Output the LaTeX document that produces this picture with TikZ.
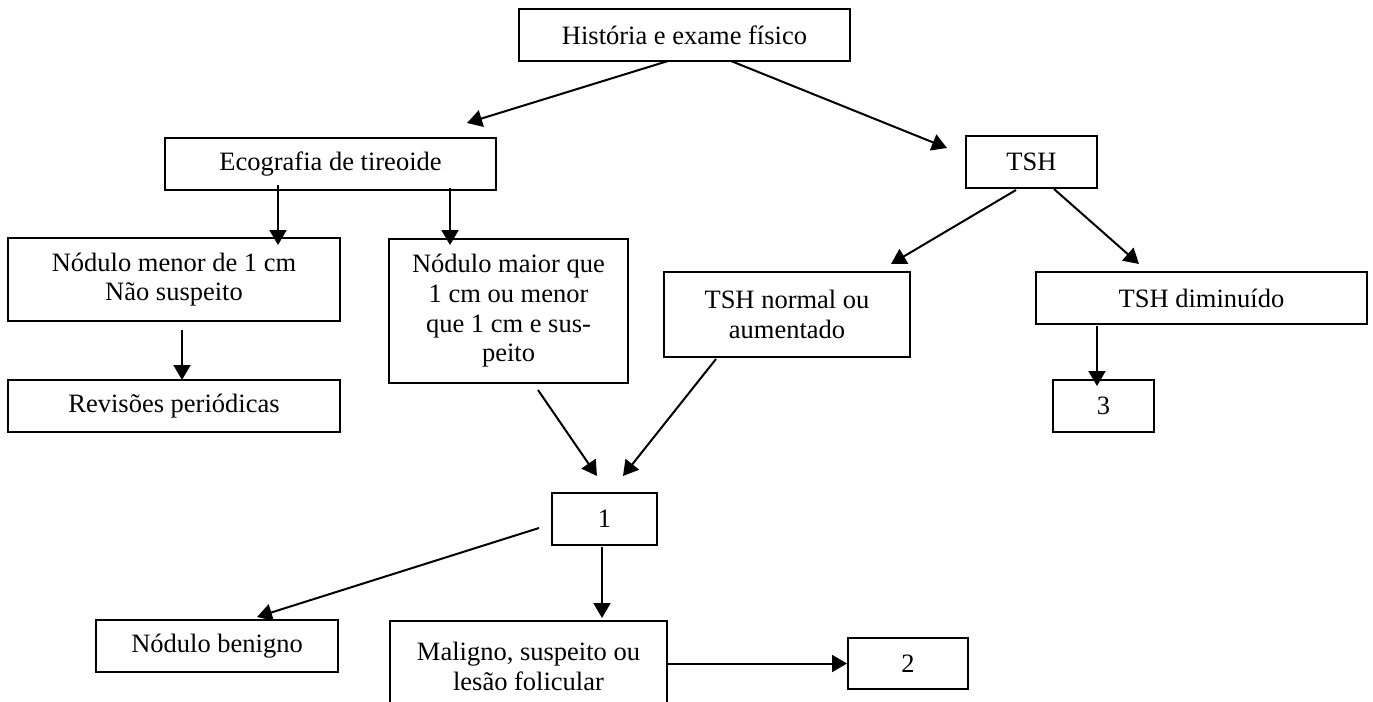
\documentclass[tikz,border=0pt]{standalone}
\usepackage{fontspec}
\setmainfont{Liberation Serif}
\usetikzlibrary{arrows.meta}

\tikzset{
    caixa/.style={draw, line width=1pt, inner sep=0pt, align=center,
        font=\fontsize{13.25}{14.8}\selectfont},
    seta/.style={line width=1pt, -{Triangle[length=7.5pt,width=8.5pt]}}
}

\begin{document}
\begin{tikzpicture}[x=0.5pt, y=-0.5pt]
        \clip (0,0) rectangle (1373,702);

        \node[caixa, minimum width=165.5pt, minimum height=26pt] (hist) at (684.5,35) {História e exame físico};
        \node[caixa, minimum width=165.5pt, minimum height=26pt] (eco) at (330.5,164) {Ecografia de tireoide};
        \node[caixa, minimum width=65.5pt, minimum height=26pt] (tsh) at (1031.5,162) {TSH};

        \node[caixa, minimum width=166pt, minimum height=41.5pt] (menor) at (174,279.5) {Nódulo menor de 1 cm\\Não suspeito};
        \node[caixa, minimum width=166pt, minimum height=26pt] (revis) at (174,406) {Revisões periódicas};
        \node[caixa, minimum width=119.5pt, minimum height=72pt] (maior) at (508.5,311) {Nódulo maior que\\1 cm ou menor\\que 1 cm e sus-\\peito};

        \node[caixa, minimum width=123pt, minimum height=42.5pt] (normal) at (787,314.5) {TSH normal ou\\aumentado};
        \node[caixa, minimum width=165.5pt, minimum height=26pt] (dimin) at (1201.5,298) {TSH diminuído};
        \node[caixa, minimum width=50.5pt, minimum height=26pt] (tres) at (1103.5,406) {3};

        \node[caixa, minimum width=52.5pt, minimum height=26pt] (um) at (604.5,519) {1};
        \node[caixa, minimum width=121pt, minimum height=26pt] (benig) at (217,646) {Nódulo benigno};
        \node[caixa, minimum width=138.5pt, minimum height=45.5pt] (malig) at (528.5,666.5) {Maligno, suspeito ou\\lesão folicular};
        \node[caixa, minimum width=60pt, minimum height=25.5pt] (dois) at (908,663.5) {2};

        \coordinate (hist-e) at (668,61);
        \coordinate (hist-d) at (731,61);
        \coordinate (eco-top) at (467,123);
        \coordinate (tsh-top) at (947,148);
        \coordinate (eco-e) at (278,185);
        \coordinate (eco-d) at (450,188);
        \coordinate (menor-top) at (278,245);
        \coordinate (maior-top) at (450,245);
        \coordinate (menor-bot) at (182,330);
        \coordinate (revis-top) at (182,380);
        \coordinate (tsh-e) at (1016,190);
        \coordinate (tsh-d) at (1054,189);
        \coordinate (normal-top) at (891,264);
        \coordinate (dimin-top) at (1139,264);
        \coordinate (dimin-bot) at (1097,326);
        \coordinate (tres-top) at (1097,386);
        \coordinate (maior-bot) at (538,390);
        \coordinate (normal-bot) at (716,359);
        \coordinate (um-e) at (597,476);
        \coordinate (um-d) at (623,476);
        \coordinate (um-lado) at (539,528);
        \coordinate (um-bot) at (602,547);
        \coordinate (benig-top) at (257,617);
        \coordinate (malig-top) at (602,618);

        \draw[seta] (hist-e) -- (eco-top);
        \draw[seta] (hist-d) -- (tsh-top);
        \draw[seta] (eco-e) -- (menor-top);
        \draw[seta] (eco-d) -- (maior-top);
        \draw[seta] (menor-bot) -- (revis-top);
        \draw[seta] (tsh-e) -- (normal-top);
        \draw[seta] (tsh-d) -- (dimin-top);
        \draw[seta] (dimin-bot) -- (tres-top);
        \draw[seta] (maior-bot) -- (um-e);
        \draw[seta] (normal-bot) -- (um-d);
        \draw[seta] (um-lado) -- (benig-top);
        \draw[seta] (um-bot) -- (malig-top);
        \draw[seta] (malig.east |- dois) -- (dois.west);

    \end{tikzpicture}
\end{document}
